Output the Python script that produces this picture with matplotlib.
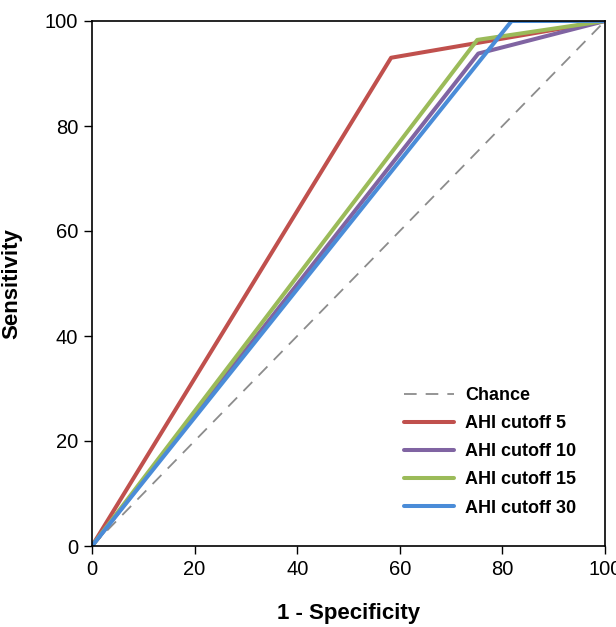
import matplotlib
matplotlib.use("Agg")
import matplotlib.pyplot as plt

plt.rcParams['font.family'] = ['Liberation Sans', 'DejaVu Sans']

chance_x = [0, 100]
chance_y = [0, 100]
series_names = ["AHI cutoff 5", "AHI cutoff 10", "AHI cutoff 15", "AHI cutoff 30"]
series_x = [[0, 58.3, 100], [0, 75.3, 100], [0, 75.1, 100], [0, 81.8, 100]]
series_y = [[0, 93.0, 100], [0, 93.8, 100], [0, 96.4, 100], [0, 100, 100]]
colors = ["#C0504D", "#8064A2", "#9BBB59", "#4A8CD8"]
ticks = [0, 20, 40, 60, 80, 100]

fig = plt.figure(figsize=(6.16, 6.27), dpi=100)
ax = fig.add_axes([92/616, 1-546/627, (605-92)/616, (546-21)/627])
ax.plot(chance_x, chance_y, color="#8C8C8C", lw=1.3, ls=(0, (7, 5)), label="Chance")
for x, y, c, n in zip(series_x, series_y, colors, series_names):
    ax.plot(x, y, color=c, lw=2.9, label=n, solid_capstyle="round")
ax.set_xlim(0, 100)
ax.set_ylim(0, 100)
ax.set_xticks(ticks)
ax.set_yticks(ticks)
ax.tick_params(labelsize=14.5, length=6, width=1, direction="out", pad=4)
for s in ax.spines.values():
    s.set_linewidth(1.2)
ax.set_xlabel("1 - Specificity", fontsize=16, fontweight="bold")
ax.set_ylabel("Sensitivity", fontsize=16, fontweight="bold")
ax.xaxis.set_label_coords(0.5, -0.108)
ax.yaxis.set_label_coords(-0.135, 0.5)
leg = ax.legend(loc="lower right", frameon=False, prop={"size": 13, "weight": "bold"},
                handlelength=2.75, handletextpad=0.6, labelspacing=0.62,
                bbox_to_anchor=(0.975, 0.025))
fig.savefig("out.png", dpi=100)
